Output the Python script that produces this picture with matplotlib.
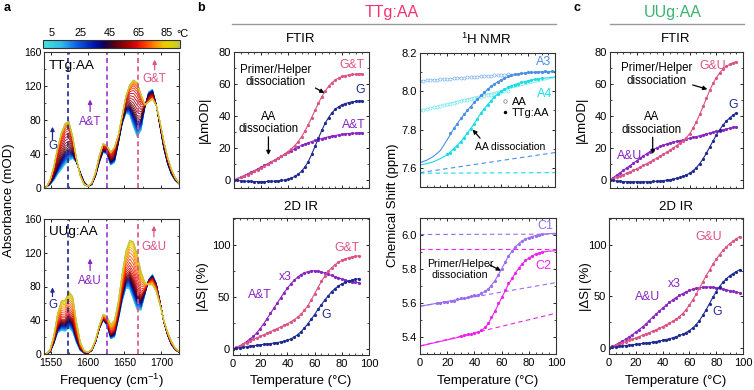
import numpy as np
import matplotlib
matplotlib.use("Agg")
import matplotlib.pyplot as plt
import matplotlib.colors as mplcolors
from matplotlib.cm import ScalarMappable
from matplotlib.lines import Line2D
from matplotlib.ticker import MultipleLocator, AutoMinorLocator

plt.rcParams["font.family"] = ["Liberation Sans", "DejaVu Sans"]
plt.rcParams["mathtext.fontset"] = "custom"
plt.rcParams["mathtext.rm"] = "Liberation Sans"
plt.rcParams["axes.linewidth"] = 0.8
plt.rcParams["axes.edgecolor"] = "#333333"

# ---------------- data ----------------
# a: FTIR spectra, cold (5 C) and hot (95 C) ends of the melt
freq = np.linspace(1544, 1724, 36)
ttg_cold = [1, 4, 9, 16, 22, 28, 32, 35, 30, 18, 7, 2, 4, 14, 30, 42, 40, 27, 30, 52,
            75, 88, 86, 72, 60, 68, 95, 113, 116, 98, 72, 46, 28, 16, 9, 5]
ttg_hot = [1, 9, 25, 47, 65, 76, 78, 60, 34, 14, 4, 2, 6, 18, 38, 52, 50, 42, 48, 62,
           85, 108, 121, 127, 124, 110, 98, 101, 105, 97, 78, 55, 36, 22, 12, 6]
uug_cold = [0, 2, 12, 25, 28, 27, 31, 26, 13, 4, 1, 1, 4, 14, 30, 40, 34, 18, 20, 40,
            62, 78, 77, 64, 52, 52, 70, 88, 94, 84, 62, 38, 22, 11, 5, 2]
uug_hot = [0, 5, 22, 48, 63, 64, 74, 68, 38, 14, 4, 2, 6, 17, 34, 47, 45, 35, 40, 62,
           95, 122, 135, 133, 118, 98, 85, 82, 82, 74, 58, 40, 26, 15, 7, 3]
band_pos = [1574, 1626, 1668]

# b, c: FTIR melting curves |dmOD|
ftir_T = np.arange(0, 97.5, 2.5)
b_gt = [0, 0.8, 1.6, 2.5, 3.4, 4.4, 5.4, 6.4, 7.5, 8.6, 9.8, 11, 12.2, 13.5, 14.8, 16.2,
        17.8, 19.5, 21.5, 24, 27, 30.5, 34.5, 39, 43.5, 48, 52, 55.5, 58.5, 60.8, 62.5,
        63.8, 64.7, 65.3, 65.7, 66, 66.2, 66.3, 66.4]
b_at = [0, 0.9, 1.8, 2.8, 3.8, 4.8, 5.8, 6.9, 8, 9.1, 10.2, 11.3, 12.4, 13.6, 14.8, 16,
        17.2, 18.4, 19.6, 20.6, 21.6, 22.5, 23.3, 24, 24.7, 25.3, 25.9, 26.5, 27, 27.4,
        27.8, 28.2, 28.5, 28.8, 29, 29.2, 29.3, 29.4, 29.5]
b_g = [0, -0.3, -0.5, -0.7, -0.8, -0.9, -1, -1, -1, -1, -0.9, -0.8, -0.7, -0.5, -0.3, 0,
       0.5, 1.2, 2.2, 3.6, 5.5, 8, 11.5, 16, 21, 26, 31, 35.5, 39, 42, 44.2, 45.8, 47,
       47.8, 48.4, 48.8, 49.1, 49.3, 49.5]
c_gu = [0, 0.8, 1.6, 2.4, 3.3, 4.2, 5.1, 6, 7, 8, 9.1, 10.2, 11.3, 12.5, 13.6, 14.8, 16,
        17.3, 18.6, 20, 21.5, 23, 24.6, 26.5, 29, 32.5, 36.5, 41, 46, 51, 56, 60.5, 64,
        67, 69.3, 71, 72.3, 73.3, 74]
c_au = [0, 1.5, 3, 4.5, 6, 7.5, 9, 10.5, 12, 13.5, 15, 16.4, 17.8, 19, 20, 21, 21.8,
        22.5, 23.1, 23.6, 24.1, 24.6, 25.1, 25.6, 26.1, 26.6, 27.1, 27.7, 28.3, 28.8,
        29.4, 29.9, 30.4, 30.9, 31.4, 31.9, 32.4, 32.9, 33.3]
c_g = [0, -0.3, -0.6, -0.8, -1, -1.1, -1.2, -1.2, -1.2, -1.2, -1.2, -1.1, -1, -0.9, -0.8,
       -0.6, -0.4, -0.1, 0.2, 0.6, 1, 1.6, 2.3, 3.2, 4.3, 5.8, 7.8, 10.3, 13.3, 16.8,
       20.6, 24.5, 28.2, 31.5, 34.4, 36.8, 38.8, 40.5, 42]

# b, c: 2D IR melting curves |dS| (%)
ir_T_b = np.arange(0, 95, 2.5)
b2_gt = [0, 1.5, 3, 4.5, 6, 7.5, 9, 10.5, 12, 13.5, 15, 16.5, 18, 19.5, 21, 22.5, 24, 26,
         28, 30.5, 33.5, 37, 41.5, 47, 53, 59, 65, 70, 74.5, 78, 81, 83.3, 85.2, 86.6,
         87.7, 88.5, 89.1, 89.5]
b2_at = [0, 1, 2.5, 4.5, 7, 9.5, 12, 15.5, 19.5, 24, 29, 34, 39, 44, 49, 54, 58.5, 62.5,
         66, 69, 71.5, 73.2, 74.3, 75, 75.2, 74.8, 74, 73, 71.8, 70.6, 69.4, 68.3, 67.2,
         66.3, 65.5, 64.8, 64.2, 63.6]
b2_g = [0, 0.5, 1, 1.5, 2, 2.5, 3, 3.4, 3.8, 4.2, 4.6, 5, 5.5, 6, 6.6, 7.3, 8.2, 9.5,
        11.3, 13.6, 16.5, 20, 24, 28.5, 33, 38, 42.5, 47, 51, 55, 58, 60.5, 62.5, 64,
        65.2, 66.2, 67, 67.5]
ir_T_c = np.arange(0, 100, 2.5)
c2_gu = [0, 1.2, 2.4, 3.6, 4.8, 6, 7.2, 8.4, 9.6, 10.9, 12.2, 13.5, 14.8, 16.1, 17.5, 19,
         20.5, 22.1, 23.8, 25.7, 27.8, 30.3, 33.3, 37, 41.5, 46.5, 52, 58, 64, 70, 75.5,
         81, 86, 90.5, 94.5, 98, 101, 103.5, 105.8, 108]
c2_au = [0, 1.5, 3, 4.7, 6.5, 8.5, 10.5, 12.8, 15.2, 17.7, 20.3, 23, 26.5, 29.6, 32.6,
         35.6, 38.5, 41.3, 44, 46.5, 48.8, 50.9, 52.7, 54.3, 55.7, 56.8, 57.7, 58.4, 58.8,
         59, 59, 58.8, 58.4, 57.8, 57, 56.2, 55.5, 54.8, 54.1, 53.4]
c2_g = [0, 0.5, 1, 1.4, 1.8, 2.2, 2.6, 3, 3.4, 3.8, 4.2, 4.6, 5, 5.5, 6, 6.6, 7.3, 8,
        8.8, 9.7, 10.8, 12, 13.2, 14.8, 16.8, 19.3, 22.5, 26.5, 31.5, 37, 43, 49, 54.5,
        59.5, 63.5, 67, 69.8, 72, 74, 75.8]

# b: 1H NMR chemical shifts (ppm)
free_T = np.arange(0, 67.5, 2.5)
a3_free = [8.055, 8.056, 8.057, 8.058, 8.060, 8.061, 8.062, 8.064, 8.065, 8.066, 8.067,
           8.069, 8.070, 8.071, 8.073, 8.074, 8.075, 8.076, 8.078, 8.079, 8.080, 8.082,
           8.083, 8.084, 8.085, 8.087, 8.088]
a4_free = [7.900, 7.904, 7.908, 7.912, 7.916, 7.920, 7.924, 7.928, 7.932, 7.936, 7.940,
           7.944, 7.948, 7.952, 7.955, 7.959, 7.963, 7.967, 7.971, 7.975, 7.979, 7.983,
           7.987, 7.991, 7.995, 7.999, 8.003]
line_T = [0, 100]
a3_free_line = [8.055, 8.105]
a4_free_line = [7.900, 8.072]
fit_T = np.arange(0, 101, 5)
a3_fit = [7.627, 7.64, 7.66, 7.69, 7.745, 7.805, 7.855, 7.9, 7.94, 7.975, 8.01, 8.038,
          8.06, 8.075, 8.086, 8.093, 8.098, 8.1, 8.102, 8.102, 8.103]
a3_T = np.arange(22.5, 100, 2.5)
a3_pts = [7.78, 7.81, 7.83, 7.86, 7.88, 7.9, 7.92, 7.945, 7.96, 7.98, 7.995, 8.01, 8.025,
          8.04, 8.05, 8.06, 8.07, 8.078, 8.083, 8.088, 8.091, 8.094, 8.097, 8.099, 8.1,
          8.101, 8.103, 8.102, 8.104, 8.103, 8.104]
a4_fit = [7.615, 7.622, 7.632, 7.648, 7.668, 7.7, 7.735, 7.78, 7.83, 7.885, 7.93, 7.97,
          8.0, 8.02, 8.035, 8.046, 8.055, 8.062, 8.067, 8.071, 8.075]
a4_T = np.arange(20, 92.5, 2.5)
a4_pts = [7.67, 7.68, 7.70, 7.715, 7.735, 7.755, 7.78, 7.805, 7.83, 7.855, 7.885, 7.905,
          7.93, 7.95, 7.97, 7.985, 8.0, 8.01, 8.02, 8.027, 8.034, 8.04, 8.046, 8.05,
          8.055, 8.058, 8.062, 8.065, 8.068]
a3_base = [7.575, 7.68]
a4_base = [7.572, 7.575]

c1_fit = [5.582, 5.588, 5.595, 5.602, 5.609, 5.616, 5.624, 5.632, 5.641, 5.655, 5.68,
          5.73, 5.8, 5.875, 5.93, 5.965, 5.985, 5.997, 6.004, 6.008, 6.01]
c1_T = np.arange(12.5, 92.5, 2.5)
c1_pts = [5.6, 5.6, 5.605, 5.607, 5.61, 5.613, 5.625, 5.628, 5.63, 5.633, 5.64, 5.645,
          5.648, 5.658, 5.668, 5.685, 5.7, 5.73, 5.765, 5.8, 5.84, 5.875, 5.905, 5.93,
          5.948, 5.962, 5.975, 5.985, 5.99, 5.997, 6.0, 6.003]
c2_fit = [5.347, 5.356, 5.365, 5.374, 5.383, 5.392, 5.402, 5.411, 5.421, 5.435, 5.475,
          5.55, 5.63, 5.71, 5.775, 5.83, 5.865, 5.888, 5.9, 5.905, 5.908]
c2_T = np.arange(30, 92.5, 2.5)
c2_pts = [5.405, 5.41, 5.415, 5.418, 5.425, 5.43, 5.44, 5.458, 5.48, 5.52, 5.555, 5.6,
          5.635, 5.675, 5.715, 5.748, 5.778, 5.808, 5.832, 5.85, 5.866, 5.878, 5.888,
          5.895, 5.9]
c1_hi = [6.003, 6.005]
c1_lo = [5.58, 5.72]
c2_hi = [5.916, 5.916]
c2_lo = [5.347, 5.54]

# ---------------- colours ----------------
NAVY = "#1f2a90"
PURPLE = "#8a25c0"
PINK = "#dc5283"
A3C = "#4a8fe6"
A4C = "#16dde6"
C1C = "#9a6cf0"
C2C = "#ee22ee"
cmap = mplcolors.LinearSegmentedColormap.from_list("melt", [
    (0.0, "#44e4dc"), (0.137, "#30b8e8"), (0.242, "#1060e8"), (0.379, "#0010a8"),
    (0.453, "#140050"), (0.516, "#500018"), (0.611, "#a00000"), (0.684, "#e00808"),
    (0.747, "#ff3a00"), (0.821, "#ff8c00"), (0.884, "#f0c800"), (0.937, "#dcd400"),
    (1.0, "#c4c24a")])
norm = mplcolors.Normalize(-1, 94)

W, H = 754, 390
fig = plt.figure(figsize=(7.54, 3.9), dpi=100)


def box(x0, y0, x1, y1):
    return fig.add_axes([x0 / W, 1 - y1 / H, (x1 - x0) / W, (y1 - y0) / H])


def ftext(x, y, s, **kw):
    kw.setdefault("ha", "center")
    kw.setdefault("va", "center")
    fig.text(x / W, 1 - y / H, s, **kw)


def style(ax, xlabels, size=8):
    ax.tick_params(direction="in", top=True, right=True, length=2.5, width=0.6,
                   labelsize=size, pad=2)
    ax.tick_params(axis="x", pad=3)
    ax.tick_params(which="minor", direction="in", top=True, right=True, length=1.5,
                   width=0.5)
    ax.xaxis.set_minor_locator(AutoMinorLocator(4))
    ax.yaxis.set_minor_locator(AutoMinorLocator(2))
    if not xlabels:
        ax.tick_params(labelbottom=False)


def arrow(ax, tail, head, color="black"):
    ax.annotate("", xy=head, xytext=tail,
                arrowprops=dict(arrowstyle="-|>", color=color, lw=0.9,
                                mutation_scale=6, shrinkA=0, shrinkB=0))


def melt_curve(ax, T, vals, color):
    ax.plot(T, vals, "-", color=color, lw=0.8)
    ax.plot(T, vals, "o", color=color, ms=2.3, mew=0)


# ---------------- a: spectra ----------------
spec_T = ftir_T[2:]


def spectra(ax, cold, hot, melt, name, labels):
    cold = np.array(cold, float)
    hot = np.array(hot, float)
    melt = np.array(melt, float)
    f = (melt - melt.min()) / (melt.max() - melt.min())
    for T, w in zip(spec_T, f):
        ax.plot(freq, cold + w * (hot - cold), color=cmap(norm(T)), lw=0.6)
    for pos, col in zip(band_pos, [NAVY, "#9a35d0", PINK]):
        ax.axvline(pos, color=col, lw=1.2, dashes=(3, 2))
    ax.set_xlim(1541, 1724)
    ax.set_ylim(0, 160)
    ax.xaxis.set_major_locator(MultipleLocator(50))
    ax.yaxis.set_major_locator(MultipleLocator(40))
    ax.text(1548, 144, name, fontsize=9.7, va="center")
    for (x, y_txt, y0, y1, s, col) in labels:
        ax.text(x, y_txt, s, color=col, fontsize=8.3, ha="center", va="center")
        arrow(ax, (x, y0), (x, y1), col)


ax = box(44, 52, 179, 188)
spectra(ax, ttg_cold, ttg_hot, b_gt[2:], "TTg:AA",
        [(1552.5, 50, 57, 72, "G", NAVY), (1603.5, 78, 90, 104, "A&T", PURPLE),
         (1691, 128, 139, 151, "G&T", PINK)])
style(ax, False, 7.5)
ax.xaxis.set_minor_locator(AutoMinorLocator(2))

ax = box(44, 219, 179, 354)
spectra(ax, uug_cold, uug_hot, c_gu[2:], "UUg:AA",
        [(1552.5, 58, 68, 79, "G", NAVY), (1603.5, 87, 99, 113, "A&U", PURPLE),
         (1690, 127, 139, 152, "G&U", PINK)])
style(ax, True, 7.5)
ax.xaxis.set_minor_locator(AutoMinorLocator(2))

cax = box(43, 40, 180, 48)
cb = fig.colorbar(ScalarMappable(norm=norm, cmap=cmap), cax=cax, orientation="horizontal")
cb.set_ticks([5, 25, 45, 65, 85])
cax.xaxis.set_ticks_position("top")
cax.tick_params(length=0, labelsize=7.8, pad=1.5)
cb.outline.set_linewidth(0.8)
ftext(182, 34, "°C", fontsize=7.8)

# ---------------- b: FTIR ----------------
ax = box(234, 52, 369, 188)
melt_curve(ax, ftir_T, b_at, PURPLE)
melt_curve(ax, ftir_T, b_gt, PINK)
melt_curve(ax, ftir_T, b_g, NAVY)
ax.set_xlim(0, 100)
ax.set_ylim(-5, 80)
ax.xaxis.set_major_locator(MultipleLocator(20))
ax.yaxis.set_major_locator(MultipleLocator(20))
style(ax, False)
ax.text(87, 72, "G&T", color=PINK, fontsize=8.8, ha="center", va="center")
ax.text(93.3, 56, "G", color=NAVY, fontsize=8.8, ha="center", va="center")
ax.text(88.4, 34.4, "A&T", color=PURPLE, fontsize=8.8, ha="center", va="center")
ax.text(31, 65, "Primer/Helper\ndissociation", fontsize=8.3, ha="center", va="center",
        linespacing=1.1)
arrow(ax, (60.3, 57.5), (67, 54.4))
ax.text(25.4, 35.6, "AA\ndissociation", fontsize=8.3, ha="center", va="center",
        linespacing=1.1)
arrow(ax, (25.5, 27), (25.5, 15.6))

# ---------------- b: 2D IR ----------------
ax = box(233, 218, 369, 355)
melt_curve(ax, ir_T_b, b2_at, PURPLE)
melt_curve(ax, ir_T_b, b2_gt, PINK)
melt_curve(ax, ir_T_b, b2_g, NAVY)
ax.set_xlim(0, 100)
ax.set_ylim(-6, 126)
ax.xaxis.set_major_locator(MultipleLocator(20))
ax.yaxis.set_major_locator(MultipleLocator(50))
style(ax, True)
ax.text(84, 97, "G&T", color=PINK, fontsize=8.8, ha="center", va="center")
ax.text(19.7, 52, "A&T", color=PURPLE, fontsize=8.8, ha="center", va="center")
ax.text(38.7, 69, "x3", color=PURPLE, fontsize=8.8, ha="center", va="center")
ax.text(68.4, 33, "G", color=NAVY, fontsize=8.8, ha="center", va="center")

# ---------------- b: 1H NMR (A3/A4) ----------------
ax = box(420, 53, 555, 187)
ax.plot(line_T, a3_free_line, color="#8cc0f0", lw=0.7)
ax.plot(line_T, a4_free_line, color="#80eef2", lw=0.7)
ax.plot(free_T, a3_free, "o", mfc="white", mec="#7fb4ee", ms=2.2, mew=0.5)
ax.plot(free_T, a4_free, "o", mfc="white", mec="#70e6ee", ms=2.2, mew=0.5)
ax.plot(line_T, a3_base, color=A3C, lw=0.8, dashes=(4, 3))
ax.plot(line_T, a4_base, color=A4C, lw=0.8, dashes=(4, 3))
ax.plot(fit_T, a3_fit, color=A3C, lw=0.8)
ax.plot(fit_T, a4_fit, color=A4C, lw=0.8)
ax.plot(a3_T, a3_pts, "o", color=A3C, ms=2.3, mew=0)
ax.plot(a4_T, a4_pts, "o", color=A4C, ms=2.3, mew=0)
ax.set_xlim(0, 100)
ax.set_ylim(7.5, 8.2)
ax.xaxis.set_major_locator(MultipleLocator(20))
ax.yaxis.set_major_locator(MultipleLocator(0.2))
style(ax, False)
ax.text(91.4, 8.155, "A3", color=A3C, fontsize=9, ha="center", va="center")
ax.text(92, 7.985, "A4", color=A4C, fontsize=9, ha="center", va="center")
ax.text(66.7, 7.707, "AA dissociation", fontsize=7.5, ha="center", va="center")
arrow(ax, (44.5, 7.755), (39, 7.80))
handles = [Line2D([], [], ls="none", marker="o", mfc="white", mec="#777777", ms=2.5, mew=0.5),
           Line2D([], [], ls="none", marker="o", color="black", ms=2.5, mew=0)]
ax.legend(handles, ["AA", "TTg:AA"], loc="upper left", bbox_to_anchor=(0.6, 0.675),
          frameon=False, fontsize=8, handlelength=0.7, handletextpad=0.3,
          labelspacing=0.1, borderaxespad=0, borderpad=0)

# ---------------- b: 1H NMR (C1/C2) ----------------
ax = box(420, 218, 556, 354)
for hi, lo, col in [(c1_hi, c1_lo, C1C), (c2_hi, c2_lo, C2C)]:
    ax.plot(line_T, hi, color=col, lw=0.8, dashes=(4, 3))
    ax.plot(line_T, lo, color=col, lw=0.8, dashes=(4, 3))
ax.plot(fit_T, c1_fit, color=C1C, lw=0.8)
ax.plot(fit_T, c2_fit, color=C2C, lw=0.8)
ax.plot(c1_T, c1_pts, "o", color=C1C, ms=2.3, mew=0)
ax.plot(c2_T, c2_pts, "o", color=C2C, ms=2.3, mew=0)
ax.set_xlim(0, 100)
ax.set_ylim(5.3, 6.1)
ax.xaxis.set_major_locator(MultipleLocator(20))
ax.yaxis.set_major_locator(MultipleLocator(0.2))
style(ax, True)
ax.text(92, 6.053, "C1", color=C1C, fontsize=9, ha="center", va="center")
ax.text(90.7, 5.818, "C2", color=C2C, fontsize=9, ha="center", va="center")
ax.text(29.4, 5.795, "Primer/Helper\ndissociation", fontsize=7.7, ha="center",
        va="center", linespacing=1.1)
arrow(ax, (51, 5.825), (59.5, 5.79))

# ---------------- c: FTIR ----------------
ax = box(610, 52, 743, 188)
melt_curve(ax, ftir_T, c_au, PURPLE)
melt_curve(ax, ftir_T, c_gu, PINK)
melt_curve(ax, ftir_T, c_g, NAVY)
ax.set_xlim(0, 100)
ax.set_ylim(-5, 80)
ax.xaxis.set_major_locator(MultipleLocator(20))
ax.yaxis.set_major_locator(MultipleLocator(20))
style(ax, False)
ax.text(77.2, 71.5, "G&U", color=PINK, fontsize=8.8, ha="center", va="center")
ax.text(92.2, 47, "G", color=NAVY, fontsize=8.8, ha="center", va="center")
ax.text(14.5, 15, "A&U", color=PURPLE, fontsize=8.8, ha="center", va="center")
ax.text(35.3, 65.8, "Primer/Helper\ndissociation", fontsize=8.3, ha="center",
        va="center", linespacing=1.1)
arrow(ax, (62.2, 59.4), (73.2, 56.7))
ax.text(31.3, 35.4, "AA\ndissociation", fontsize=8.3, ha="center", va="center",
        linespacing=1.1)
arrow(ax, (32.1, 26.7), (32.1, 16.2))

# ---------------- c: 2D IR ----------------
ax = box(609, 218, 743, 354)
melt_curve(ax, ir_T_c, c2_au, PURPLE)
melt_curve(ax, ir_T_c, c2_gu, PINK)
melt_curve(ax, ir_T_c, c2_g, NAVY)
ax.set_xlim(0, 100)
ax.set_ylim(-6, 126)
ax.xaxis.set_major_locator(MultipleLocator(20))
ax.yaxis.set_major_locator(MultipleLocator(50))
style(ax, True)
ax.text(74.6, 108, "G&U", color=PINK, fontsize=8.8, ha="center", va="center")
ax.text(28.5, 49, "A&U", color=PURPLE, fontsize=8.8, ha="center", va="center")
ax.text(49, 62, "x3", color=PURPLE, fontsize=8.8, ha="center", va="center")
ax.text(80.6, 34.5, "G", color=NAVY, fontsize=8.8, ha="center", va="center")

# ---------------- figure texts ----------------
ftext(7, 8, "a", fontsize=9, fontweight="bold")
ftext(201, 8, "b", fontsize=9, fontweight="bold")
ftext(577, 8, "c", fontsize=9, fontweight="bold")
ftext(392, 13, "TTg:AA", color="#f2336e", fontsize=11.5)
ftext(673, 13, "UUg:AA", color="#3cb371", fontsize=11.5)
fig.add_artist(Line2D([232 / W, 556 / W], [1 - 24 / H] * 2, color="#9a9a9a", lw=1))
fig.add_artist(Line2D([610 / W, 744 / W], [1 - 24 / H] * 2, color="#9a9a9a", lw=1))
ftext(301, 39, "FTIR", fontsize=9.5)
ftext(486, 39, "$^{1}$H NMR", fontsize=9.5)
ftext(301, 207, "2D IR", fontsize=9.5)
ftext(676, 39, "FTIR", fontsize=9.5)
ftext(676, 207, "2D IR", fontsize=9.5)
ftext(9, 200, "Absorbance (mOD)", fontsize=9.5, rotation=90)
ftext(205, 120, "|ΔmOD|", fontsize=9.5, rotation=90)
ftext(203, 287, "|ΔS| (%)", fontsize=9.5, rotation=90)
ftext(393, 205, "Chemical Shift (ppm)", fontsize=9.5, rotation=90)
ftext(582, 120, "|ΔmOD|", fontsize=9.5, rotation=90)
ftext(586, 287, "|ΔS| (%)", fontsize=9.5, rotation=90)
ftext(111, 381, "Frequency (cm$^{-1}$)", fontsize=9.5)
ftext(301, 381, "Temperature (°C)", fontsize=9.5)
ftext(488, 381, "Temperature (°C)", fontsize=9.5)
ftext(676, 381, "Temperature (°C)", fontsize=9.5)

fig.savefig("out.png", dpi=100)
